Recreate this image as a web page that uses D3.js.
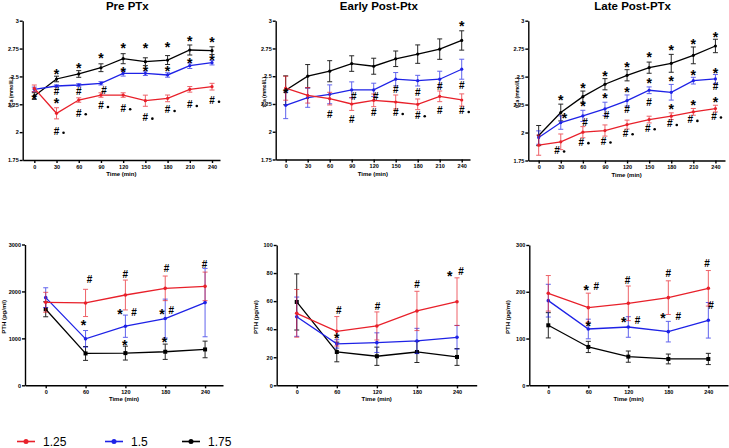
<!DOCTYPE html>
<html>
<head>
<meta charset="utf-8">
<script src="https://cdn.jsdelivr.net/npm/d3@7"></script>
<style>
  body { margin: 0; background: #fff; }
  svg { display: block; font-family: "Liberation Sans", Arial, sans-serif; }
  .axis path, .axis line { stroke: #000; stroke-width: 1.4; }
  .axis text { font-size: 5.5px; font-weight: bold; fill: #000; }
  .ptitle { font-size: 11.5px; font-weight: bold; }
  .alabel { font-size: 6px; font-weight: bold; }
</style>
</head>
<body>
<svg width="729" height="448"></svg>
<script>
// ---- data ----
var times30 = [0, 30, 60, 90, 120, 150, 180, 210, 240];
var times60 = [0, 60, 120, 180, 240];
var groups = ["1.25", "1.5", "1.75"];
var colors = ["#e8202a", "#1e22e6", "#000000"];

// tCa (mmol/L), Pre PTx
var pre125 = [2.393, 2.169, 2.288, 2.333, 2.333, 2.282, 2.303, 2.384, 2.408];
var pre125err = [0.03, 0.05, 0.02, 0.02, 0.02, 0.05, 0.03, 0.025, 0.03];
var pre15 = [2.384, 2.414, 2.423, 2.438, 2.528, 2.528, 2.513, 2.596, 2.623];
var pre15err = [0.02, 0.01, 0.012, 0.015, 0.025, 0.02, 0.02, 0.025, 0.02];
var pre175 = [2.324, 2.477, 2.522, 2.578, 2.659, 2.632, 2.647, 2.737, 2.731];
var pre175err = [0.03, 0.025, 0.03, 0.035, 0.045, 0.035, 0.04, 0.045, 0.035];

// tCa (mmol/L), Early Post-Ptx
var early125 = [2.392, 2.328, 2.298, 2.25, 2.283, 2.268, 2.247, 2.319, 2.286];
var early125err = [0.108, 0.07, 0.057, 0.058, 0.057, 0.063, 0.048, 0.048, 0.055];
var early15 = [2.238, 2.307, 2.337, 2.377, 2.377, 2.473, 2.46, 2.473, 2.563];
var early15err = [0.12, 0.087, 0.085, 0.072, 0.06, 0.06, 0.048, 0.072, 0.09];
var early175 = [2.373, 2.5, 2.545, 2.614, 2.59, 2.657, 2.699, 2.744, 2.822];
var early175err = [0.13, 0.105, 0.095, 0.07, 0.072, 0.07, 0.083, 0.092, 0.087];

// tCa (mmol/L), Late Post-PTx
var late125 = [1.887, 1.917, 2.003, 2.018, 2.071, 2.116, 2.146, 2.185, 2.214];
var late125err = [0.09, 0.07, 0.05, 0.05, 0.04, 0.03, 0.03, 0.03, 0.03];
var late15 = [1.955, 2.089, 2.149, 2.211, 2.286, 2.378, 2.36, 2.464, 2.479];
var late15err = [0.06, 0.06, 0.05, 0.06, 0.05, 0.03, 0.07, 0.03, 0.04];
var late175 = [1.973, 2.179, 2.321, 2.432, 2.512, 2.58, 2.619, 2.69, 2.774];
var late175err = [0.09, 0.075, 0.05, 0.05, 0.05, 0.05, 0.08, 0.075, 0.06];

// PTH (pg/ml)
var pthPre125 = [1769, 1755, 1924, 2066, 2108];
var pthPre125err = [212, 290, 318, 262, 304];
var pthPre15 = [1868, 990, 1259, 1422, 1762];
var pthPre15err = [210, 177, 237, 414, 728];
var pthPre175 = [1620, 679, 686, 715, 764];
var pthPre175err = [160, 148, 148, 163, 177];

var pthEarly125 = [51.3, 38.5, 42.3, 53, 59.6];
var pthEarly125err = [17, 10.5, 10, 14, 17];
var pthEarly15 = [48.9, 29.5, 30.4, 31.6, 34.2];
var pthEarly15err = [14, 3, 7, 9, 8.5];
var pthEarly175 = [59.4, 23.75, 20.7, 23.75, 20.2];
var pthEarly175err = [20, 7, 6.5, 7.5, 6];

var pthLate125 = [196.7, 166, 175.3, 187.4, 207.4];
var pthLate125err = [38, 31, 37, 36, 38];
var pthLate15 = [181, 120.4, 124.7, 114.7, 139];
var pthLate15err = [35, 21, 22, 22, 38];
var pthLate175 = [128.3, 82, 61.3, 56.3, 56.3];
var pthLate175err = [27, 12, 12, 10.5, 12];

// significance marks: [time, value, symbol]
var preMarks = [[0, 2.324, "*"], [30, 2.543, "*"], [30, 2.363, "#"], [30, 2.282, "*"], [30, 2.004, "#•"],
  [60, 2.602, "*"], [60, 2.363, "#"], [60, 2.169, "#•"], [90, 2.692, "*"], [94, 2.378, "#"], [90, 2.235, "#•"],
  [120, 2.773, "*"], [120, 2.558, "*"], [120, 2.214, "#•"], [150, 2.773, "*"], [150, 2.572, "*"], [150, 2.13, "#•"],
  [180, 2.782, "*"], [180, 2.572, "*"], [180, 2.199, "#•"], [210, 2.836, "*"], [210, 2.647, "*"], [210, 2.244, "#•"],
  [240, 2.827, "*"], [240, 2.671, "*"], [240, 2.282, "#•"]];
var earlyMarks = [[0, 2.373, "*"], [60, 2.157, "#"], [93, 2.319, "#"], [90, 2.111, "#"], [123, 2.313, "#"], [120, 2.172, "#"],
  [150, 2.383, "#"], [150, 2.169, "#•"], [180, 2.352, "#"], [180, 2.148, "#•"], [210, 2.404, "#"], [210, 2.187, "#"],
  [240, 2.976, "*"], [240, 2.413, "#"], [240, 2.187, "#•"]];
var lateMarks = [[30, 2.313, "*"], [35, 2.149, "*"], [25, 1.839, "#•"], [60, 2.42, "*"], [60, 2.262, "*"], [63, 2.092, "#"], [58, 1.914, "#•"],
  [90, 2.53, "*"], [90, 2.327, "*"], [92, 2.152, "#"], [88, 1.92, "#•"], [120, 2.61, "*"], [120, 2.381, "*"], [120, 2.202, "#"], [118, 1.994, "#•"],
  [150, 2.699, "*"], [150, 2.464, "*"], [150, 2.271, "#"], [148, 2.039, "#•"], [180, 2.762, "*"], [180, 2.479, "*"], [180, 2.232, "*"], [178, 2.077, "#•"],
  [210, 2.818, "*"], [210, 2.539, "*"], [210, 2.271, "*"], [206, 2.113, "#•"], [240, 2.878, "*"], [240, 2.551, "*"], [240, 2.411, "#"], [240, 2.298, "*"], [238, 2.143, "#•"]];
var pthPreMarks = [[66, 2257, "#"], [57, 1330, "*"], [120, 2363, "#"], [112, 1564, "*"], [133, 1550, "#"], [119, 906, "*"],
  [182, 2483, "#"], [175, 1578, "*"], [189, 1599, "#"], [179, 976, "*"], [239, 2575, "#"]];
var pthEarlyMarks = [[63, 53, "#"], [60, 35.6, "*"], [121, 56.5, "#"], [180, 72, "#"], [229, 79.8, "*"], [246, 81, "#"]];
var pthLateMarks = [[57, 209.5, "*"], [72, 211, "#"], [60, 132.5, "*"], [119, 225, "#"], [113, 139.7, "*"], [134, 138, "#"],
  [180, 239.4, "#"], [172, 149, "*"], [195, 146.8, "#"], [238, 259.4, "#"], [244, 170.3, "#"]];

// ---- panels ----
var caTicks = [1.75, 2, 2.25, 2.5, 2.75, 3];
function mk(title, times, ylab, ydom, yticks, vals, errs, marks, box, xdom) {
  return {title: title, times: times, ylab: ylab, ydom: ydom, yticks: yticks,
    series: vals.map(function(v, i) { return {name: groups[i], color: colors[i], values: v, errs: errs[i]}; }),
    marks: marks, box: box, xdom: xdom};
}
var panels = [
  mk("Pre PTx", times30, "tCa (mmol/L)", [1.75, 3], caTicks, [pre125, pre15, pre175], [pre125err, pre15err, pre175err], preMarks,
     {l: 22.7, r: 220, t: 20.7, b: 160}, [-15.7, 250.8]),
  mk("Early Post-Ptx", times30, "tCa (mmol/L)", [1.75, 3], caTicks, [early125, early15, early175], [early125err, early15err, early175err], earlyMarks,
     {l: 275.7, r: 470, t: 20.7, b: 159.5}, [-13.6, 251.3]),
  mk("Late Post-PTx", times30, "tCa (mmol/L)", [1.75, 3], caTicks, [late125, late15, late175], [late125err, late15err, late175err], lateMarks,
     {l: 528.3, r: 725, t: 20.7, b: 160.5}, [-14.1, 253]),
  mk(null, times60, "PTH (pg/ml)", [0, 3000], [0, 1000, 2000, 3000], [pthPre125, pthPre15, pthPre175], [pthPre125err, pthPre15err, pthPre175err], pthPreMarks,
     {l: 25, r: 223, t: 244.5, b: 385.3}, [-31.2, 267]),
  mk(null, times60, "PTH (pg/ml)", [0, 100], [0, 20, 40, 60, 80, 100], [pthEarly125, pthEarly15, pthEarly175], [pthEarly125err, pthEarly15err, pthEarly175err], pthEarlyMarks,
     {l: 276.7, r: 476.7, t: 245, b: 385.3}, [-30, 269.5]),
  mk(null, times60, "PTH (pg/ml)", [0, 300], [0, 100, 200, 300], [pthLate125, pthLate15, pthLate175], [pthLate125err, pthLate15err, pthLate175err], pthLateMarks,
     {l: 529.3, r: 728, t: 245, b: 385.3}, [-28.5, 269.5])
];

var svg = d3.select("svg");

panels.forEach(function(p, pi) {
  var g = svg.append("g").attr("class", "panel");
  var x = d3.scaleLinear().domain(p.xdom).range([p.box.l, p.box.r]);
  var y = d3.scaleLinear().domain(p.ydom).range([p.box.b, p.box.t]);
  var isPth = pi >= 3;

  g.append("g").attr("class", "axis")
    .attr("transform", "translate(0," + p.box.b + ")")
    .call(d3.axisBottom(x).tickValues(p.times).tickSize(3).tickSizeOuter(0).tickPadding(2));
  g.append("g").attr("class", "axis")
    .attr("transform", "translate(" + p.box.l + ",0)")
    .call(d3.axisLeft(y).tickValues(p.yticks).tickSize(3).tickSizeOuter(0).tickPadding(1)
      .tickFormat(d3.format("~g")));

  if (p.title) {
    g.append("text").attr("class", "ptitle")
      .attr("x", (p.box.l + p.box.r) / 2 + 6).attr("y", 10)
      .attr("text-anchor", "middle").text(p.title);
  }
  g.append("text").attr("class", "alabel")
    .attr("x", (p.box.l + p.box.r) / 2).attr("y", p.box.b + 16)
    .attr("text-anchor", "middle").text("Time (min)");
  g.append("text").attr("class", "alabel")
    .attr("text-anchor", "middle")
    .style("font-size", isPth ? "6px" : "5px")
    .attr("transform", "translate(" + (p.box.l - (isPth ? 19 : 9.5)) + "," + ((p.box.t + p.box.b) / 2 + 2) + ")rotate(-90)")
    .text(p.ylab);

  var line = d3.line()
    .x(function(d) { return x(d.t); })
    .y(function(d) { return y(d.v); });

  // draw black first so red ends on top
  p.series.slice().reverse().forEach(function(s) {
    var pts = p.times.map(function(t, i) { return {t: t, v: s.values[i], e: s.errs[i]}; });
    var sg = g.append("g");
    var eb = sg.selectAll("g.eb").data(pts).enter().append("g").attr("class", "eb")
      .attr("stroke", s.color).attr("stroke-width", 1).attr("opacity", s.color === "#000000" ? 0.85 : 0.7);
    eb.append("line")
      .attr("x1", function(d) { return x(d.t); }).attr("x2", function(d) { return x(d.t); })
      .attr("y1", function(d) { return y(d.v - d.e); }).attr("y2", function(d) { return y(d.v + d.e); });
    eb.append("line")
      .attr("x1", function(d) { return x(d.t) - 2.5; }).attr("x2", function(d) { return x(d.t) + 2.5; })
      .attr("y1", function(d) { return y(d.v + d.e); }).attr("y2", function(d) { return y(d.v + d.e); });
    eb.append("line")
      .attr("x1", function(d) { return x(d.t) - 2.5; }).attr("x2", function(d) { return x(d.t) + 2.5; })
      .attr("y1", function(d) { return y(d.v - d.e); }).attr("y2", function(d) { return y(d.v - d.e); });

    sg.append("path").datum(pts)
      .attr("fill", "none").attr("stroke", s.color).attr("stroke-width", 1.3)
      .attr("d", line);

    if (isPth && s.color === "#000000") {
      sg.selectAll("rect.pt").data(pts).enter().append("rect")
        .attr("x", function(d) { return x(d.t) - 2; }).attr("y", function(d) { return y(d.v) - 2; })
        .attr("width", 4).attr("height", 4).attr("fill", s.color);
    } else {
      sg.selectAll("circle.pt").data(pts).enter().append("circle")
        .attr("cx", function(d) { return x(d.t); }).attr("cy", function(d) { return y(d.v); })
        .attr("r", isPth ? 1.8 : 1.6).attr("fill", s.color);
    }
  });

  // significance marks
  var mg = g.append("g").attr("fill", "#000");
  p.marks.forEach(function(m) {
    var mx = x(m[0]), my = y(m[1]);
    if (m[2] === "*") {
      mg.append("text").attr("x", mx).attr("y", my + 7.5).attr("fill", "#000")
        .attr("text-anchor", "middle").attr("font-size", "14px").attr("font-weight", "bold").text("*");
    } else {
      mg.append("text").attr("x", mx).attr("y", my + 3.5).attr("fill", "#000")
        .attr("text-anchor", "middle").attr("font-size", "10px").attr("font-weight", "bold").text("#");
      if (m[2] === "#•") {
        mg.append("circle").attr("cx", mx + 7).attr("cy", my + 1).attr("r", 1.3).attr("fill", "#000");
      }
    }
  });
});

// legend
var leg = svg.append("g").attr("class", "legend");
var legX = [17, 105, 182];
groups.forEach(function(name, i) {
  var lg = leg.append("g").attr("transform", "translate(" + legX[i] + ",441.5)");
  lg.append("line").attr("x1", 0).attr("x2", 18).attr("stroke", colors[i]).attr("stroke-width", 1.6);
  lg.append("circle").attr("cx", 9).attr("r", 2.5).attr("fill", colors[i]);
  lg.append("text").attr("x", 26).attr("y", 4.3).attr("font-size", "12px").text(name);
});
</script>
</body>
</html>
